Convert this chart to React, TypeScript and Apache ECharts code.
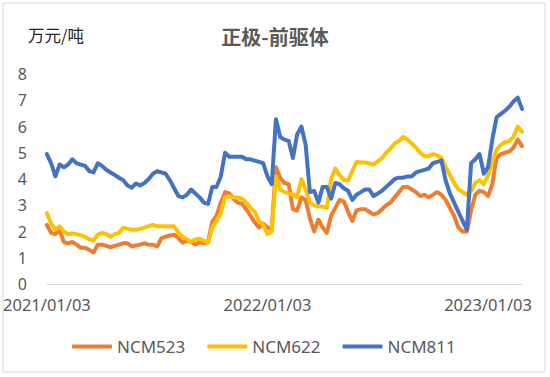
import React, { useEffect, useRef } from "react";
import * as echarts from "echarts";

const seriesNames = ["NCM523", "NCM622", "NCM811"];
const seriesColors = ["#ED7D31", "#FFC000", "#4472C4"];
const tickLabels = ["2021/01/03", "2022/01/03", "2023/01/03"];
const tickIndex = [0, 52, 104];
const unitLabel = "万元/吨";
const titleText = "正极-前驱体";

const ncm523 = [
  2.25, 1.95, 1.9, 2.05, 1.6, 1.55, 1.6, 1.5, 1.38, 1.38,
  1.3, 1.2, 1.5, 1.5, 1.45, 1.4, 1.45, 1.5, 1.55, 1.55,
  1.43, 1.47, 1.5, 1.55, 1.5, 1.5, 1.43, 1.75, 1.8, 1.85,
  1.88, 1.75, 1.57, 1.65, 1.6, 1.5, 1.6, 1.55, 1.6, 2.38,
  2.6, 3.1, 3.5, 3.45, 3.25, 3.1, 3.05, 2.85, 2.6, 2.35,
  2.15, 2.3, 2.15, 2.1, 4.45, 4.05, 3.85, 3.8, 2.85, 2.8,
  3.3, 3.2, 2.5, 2.0, 2.45, 2.15, 1.95, 2.6, 2.9, 3.2,
  3.15, 2.75, 2.4, 2.8, 2.85, 2.85, 2.75, 2.65, 2.7, 2.85,
  3.0, 3.1, 3.3, 3.5, 3.7, 3.7, 3.6, 3.5, 3.35, 3.4,
  3.3, 3.4, 3.5, 3.4, 3.2, 2.9, 2.6, 2.15, 2.0, 2.0,
  2.8, 3.4, 3.55, 3.5, 3.35, 3.8, 4.8, 4.95, 5.0, 5.05,
  5.2, 5.5, 5.25,
];

const ncm622 = [
  2.7, 2.3, 2.07, 2.2, 2.0, 1.9, 1.92, 1.9, 1.85, 1.8,
  1.7, 1.65, 1.88, 1.95, 1.9, 1.8, 1.9, 1.95, 2.15, 2.1,
  2.07, 2.07, 2.1, 2.15, 2.2, 2.25, 2.2, 2.2, 2.2, 2.2,
  2.2, 1.95, 1.8, 1.7, 1.6, 1.7, 1.72, 1.65, 1.57, 2.15,
  2.4, 2.7, 3.3, 3.35, 3.3, 3.3, 3.25, 3.1, 2.9, 2.75,
  2.4, 2.25, 1.9, 2.0, 4.1, 3.6, 3.5, 3.45, 3.4, 3.3,
  4.0, 3.6, 3.1, 3.0, 2.95, 2.95, 2.9, 4.0, 4.4, 4.15,
  3.95, 3.95, 4.3, 4.65, 4.63, 4.63, 4.6, 4.55, 4.67, 4.8,
  5.0, 5.15, 5.35, 5.45, 5.6, 5.5, 5.35, 5.2, 5.0, 4.87,
  4.87, 4.95, 4.9, 4.8, 4.45, 4.15, 3.85, 3.6, 3.5, 3.4,
  3.55, 3.85, 3.95, 3.8, 4.15, 4.65, 5.1, 5.3, 5.4, 5.45,
  5.6, 6.0, 5.8,
];

const ncm811 = [
  4.95, 4.6, 4.1, 4.55, 4.45, 4.55, 4.75, 4.6, 4.55, 4.5,
  4.3, 4.25, 4.6, 4.5, 4.35, 4.25, 4.15, 4.05, 3.95, 3.75,
  3.67, 3.83, 3.75, 3.85, 4.0, 4.2, 4.3, 4.25, 4.2, 3.95,
  3.65, 3.35, 3.3, 3.4, 3.6, 3.45, 3.3, 3.1, 3.05, 3.7,
  3.7, 4.1, 5.0, 4.85, 4.85, 4.85, 4.85, 4.75, 4.75, 4.7,
  4.65, 4.6, 4.1, 3.8, 6.28, 5.6, 5.5, 5.45, 4.8, 5.7,
  6.0, 5.3, 3.5, 3.55, 3.1, 3.7, 3.7, 3.25, 3.85, 3.8,
  3.65, 3.55, 3.2, 3.4, 3.5, 3.6, 3.6, 3.35, 3.45, 3.55,
  3.7, 3.85, 4.0, 4.05, 4.05, 4.1, 4.1, 4.25, 4.3, 4.35,
  4.4, 4.6, 4.65, 4.7, 3.95, 3.45, 3.1, 2.75, 2.4, 2.07,
  4.6, 4.75, 4.95, 4.2, 4.45, 5.5, 6.35, 6.48, 6.6, 6.75,
  6.95, 7.1, 6.67,
];

const seriesData = [ncm523, ncm622, ncm811];

// weekly category labels starting 2021/01/03
const categories: string[] = ncm523.map((_, i) => {
  const d = new Date(Date.UTC(2021, 0, 3 + i * 7));
  const mm = String(d.getUTCMonth() + 1).padStart(2, "0");
  const dd = String(d.getUTCDate()).padStart(2, "0");
  return `${d.getUTCFullYear()}/${mm}/${dd}`;
});

const FONT = "'Noto Sans', 'Noto Sans CJK SC', sans-serif";

export default function App() {
  const ref = useRef<HTMLDivElement>(null);
  useEffect(() => {
    if (!ref.current) return;
    const chart = echarts.init(ref.current, undefined, { renderer: "svg" });
    chart.setOption({
      animation: false,
      backgroundColor: "#ffffff",
      title: {
        text: titleText,
        left: "center",
        top: 21,
        textStyle: {
          fontSize: 20,
          fontWeight: "bold",
          color: "#595959",
          fontFamily: "'Noto Sans CJK SC', sans-serif",
        },
      },
      graphic: [
        {
          type: "rect",
          shape: { x: 3, y: 3, width: 542, height: 369 },
          style: { fill: "none", stroke: "#d9d9d9", lineWidth: 1 },
          silent: true,
        },
        {
          type: "text",
          x: 28,
          y: 35,
          style: {
            text: unitLabel,
            fontSize: 16.5,
            fill: "#262626",
            fontFamily: "'Noto Sans CJK SC', sans-serif",
            verticalAlign: "middle",
          },
        },
      ],
      legend: {
        left: 67,
        top: 333,
        itemWidth: 40,
        itemHeight: 4,
        itemGap: 22,
        icon: "roundRect",
        data: seriesNames,
        textStyle: { fontSize: 17, color: "#595959", fontFamily: FONT },
      },
      grid: { left: 46, right: 28, top: 74, bottom: 93 },
      xAxis: {
        type: "category",
        data: categories,
        boundaryGap: false,
        axisLine: { lineStyle: { color: "#d9d9d9", width: 1 } },
        axisTick: { show: false },
        axisLabel: {
          interval: (idx: number) => tickIndex.includes(idx),
          formatter: (_v: string, idx: number) => {
            const k = tickIndex.indexOf(idx);
            return k >= 0 ? tickLabels[k] : "";
          },
          fontSize: 16.5,
          color: "#595959",
          margin: 12,
          fontFamily: FONT,
        },
        splitLine: { show: false },
      },
      yAxis: {
        type: "value",
        min: 0,
        max: 8,
        interval: 1,
        axisLine: { show: false },
        axisTick: { show: false },
        splitLine: { show: false },
        axisLabel: { fontSize: 16, color: "#595959", margin: 20, fontFamily: FONT },
      },
      series: seriesNames.map((name, k) => ({
        name,
        type: "line",
        data: seriesData[k],
        showSymbol: false,
        symbol: "none",
        lineStyle: { width: 4, color: seriesColors[k], cap: "round", join: "round" },
        itemStyle: { color: seriesColors[k] },
      })),
    });
    return () => chart.dispose();
  }, []);
  return (
    <div
      ref={ref}
      style={{ position: "fixed", left: 0, top: 0, width: 550, height: 377 }}
    />
  );
}
